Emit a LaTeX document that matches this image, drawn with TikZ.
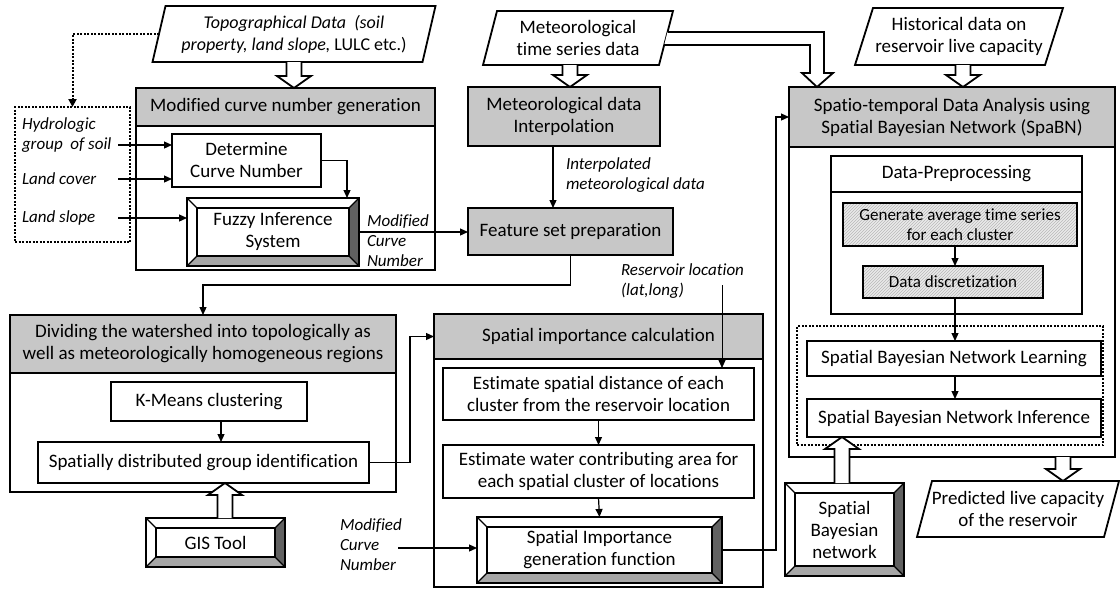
\documentclass[tikz,border=0pt]{standalone}
\usepackage{fontspec}
\setmainfont[Ligatures=NoCommon]{Carlito}
\usetikzlibrary{calc,arrows.meta,patterns}

\tikzset{
 every node/.style={outer sep=0pt, inner sep=2pt, align=center, font=\fontsize{19}{22}\selectfont},
 cont/.style={draw, line width=2.6pt, fill=white},
 headbox/.style={draw, line width=2.6pt, fill=black!22},
 box/.style={draw, line width=1.8pt, fill=white},
 hatchbox/.style={draw, line width=1.8pt, preaction={fill=black!8}, pattern=north east lines, pattern color=black!28},
 plain/.style={draw=none},
 lbl/.style={font=\fontsize{17}{20}\selectfont\itshape, align=left, anchor=west, inner sep=0pt},
 arr/.style={line width=1.2pt, -{Triangle[length=8pt,width=7pt]}},
 hollow/.style={line width=1.8pt, fill=white, line join=miter},
 dotline/.style={line width=2pt, dash pattern=on 2pt off 1.5pt},
 dotframe/.style={draw, dotline},
}

\newcommand\hollowv[2]{%
 \draw[hollow] let \p1=#1, \p2=#2, \p3=(\x1,{\y2-sign(\y2-(\y1))*12pt}) in
 (\x1-7.5pt,\y1) -- (\x1-7.5pt,\y3) -- (\x1-17pt,\y3) -- (\x1,\y2) -- (\x1+17pt,\y3) -- (\x1+7.5pt,\y3) -- (\x1+7.5pt,\y1);}

\newcommand\bevel[1]{%
 \fill[black!35] (#1.south west) -- (#1.south east) -- ($(#1.south east)+(-10pt,10pt)$) -- ($(#1.south west)+(10pt,10pt)$) -- cycle;
 \fill[black!62] (#1.south east) -- (#1.north east) -- ($(#1.north east)+(-10pt,-10pt)$) -- ($(#1.south east)+(-10pt,10pt)$) -- cycle;
 \draw[line width=1.8pt] (#1.south west) rectangle (#1.north east);
 \draw[line width=1.8pt] ($(#1.south west)+(10pt,10pt)$) rectangle ($(#1.north east)+(-10pt,-10pt)$);
 \draw[line width=1.2pt] (#1.south west) -- ++(10pt,10pt) (#1.south east) -- ++(-10pt,10pt) (#1.north east) -- ++(-10pt,-10pt) (#1.north west) -- ++(10pt,-10pt);}

\newcommand\para[2]{%
 \draw[line width=1.8pt] ($(#1.south west)+(-#2pt,0)$) -- ($(#1.north west)+(#2pt,0)$) -- ($(#1.north east)+(#2pt,0)$) -- ($(#1.south east)+(-#2pt,0)$) -- cycle;}

\begin{document}
\begin{tikzpicture}[x=1pt,y=-1pt]
\useasboundingbox[fill=white] (0,0) rectangle (1120,590);

% ---------- top-left block ----------
\node[plain, minimum width=270pt, minimum height=56pt, font=\fontsize{18}{22}\selectfont] (topo) at (294,34)
 {\textit{Topographical Data~~(soil}\\\textit{property, land slope,} LULC etc.)};
\para{topo}{6.5}

\node[cont, minimum width=299pt, minimum height=182pt] (mcng) at (285.5,179) {};
\node[headbox, minimum width=299pt, minimum height=38pt] (mcngh) at (285.5,107) {Modified curve number generation};
\node[box, minimum width=149pt, minimum height=53pt] (det) at (246.5,160.5) {Determine\\Curve Number};
\node[plain, minimum width=172pt, minimum height=68pt] (fuzzy) at (273,232) {};
\bevel{fuzzy}
\node[plain] at (fuzzy) {Fuzzy Inference\\System};

\node[dotframe, minimum width=115pt, minimum height=135pt] (dot) at (72.5,174.5) {};
\node[lbl] (hyd) at (22,135) {Hydrologic\\group~~of soil};
\node[lbl] (landc) at (22,179) {Land cover};
\node[lbl] (lands) at (22,218) {Land slope};
\coordinate (s1) at (118,145);
\coordinate (s2) at (118,179);
\coordinate (s3) at (118,218);
\node[lbl] (mcn1) at (367,241) {Modified\\Curve\\Number};

% ---------- meteorological ----------
\node[plain, minimum width=176pt, minimum height=54pt] (met) at (578,38) {Meteorological\\time series data};
\para{met}{7}
\node[headbox, minimum width=192pt, minimum height=59pt] (metint) at (564,116.5) {Meteorological data\\Interpolation};
\node[lbl] (interp) at (566,175) {Interpolated\\meteorological data};
\node[headbox, minimum width=205pt, minimum height=47pt] (feat) at (570.5,231.5) {Feature set preparation};

% ---------- SpaBN ----------
\node[plain, minimum width=190pt, minimum height=57pt] (hist) at (959,36.5) {Historical data on\\reservoir live capacity};
\para{hist}{9}
\node[cont, minimum width=326pt, minimum height=370pt] (spa) at (952,272) {};
\node[headbox, minimum width=326pt, minimum height=60pt] (spah) at (952,117) {Spatio-temporal Data Analysis using\\Spatial Bayesian Network (SpaBN)};
\node[box, minimum width=251pt, minimum height=158pt] (dp) at (956.5,235) {};
\node[box, minimum width=251pt, minimum height=36pt] (dph) at (956.5,174) {Data-Preprocessing};
\node[hatchbox, minimum width=234pt, minimum height=43pt, font=\fontsize{17}{20}\selectfont] (gen) at (960,224.5) {Generate average time series\\for each cluster};
\node[hatchbox, minimum width=180pt, minimum height=32pt, font=\fontsize{17}{20}\selectfont] (disc) at (953,282) {Data discretization};
\node[dotframe, minimum width=306pt, minimum height=119pt] (dot2) at (950,385.5) {};
\node[box, minimum width=294pt, minimum height=35pt] (learn) at (954,358.5) {Spatial Bayesian Network Learning};
\node[box, minimum width=294pt, minimum height=38pt] (inf) at (954,418) {Spatial Bayesian Network Inference};
\node[plain, minimum width=187pt, minimum height=56pt] (pred) at (1018,509) {Predicted live capacity\\of the reservoir};
\para{pred}{7.5}
\node[plain, minimum width=119pt, minimum height=93pt] (sbn) at (844.5,529.5) {};
\bevel{sbn}
\node[plain] at (sbn) {Spatial\\Bayesian\\network};

% ---------- Dividing ----------
\node[cont, minimum width=386pt, minimum height=177pt] (div) at (203,403.5) {};
\node[headbox, minimum width=386pt, minimum height=58pt] (divh) at (203,344) {Dividing the watershed into topologically as\\well as meteorologically homogeneous regions};
\node[box, minimum width=196pt, minimum height=39pt] (km) at (209,401.5) {K-Means clustering};
\node[box, minimum width=331pt, minimum height=41pt] (spd) at (203.5,462.5) {Spatially distributed group identification};
\node[plain, minimum width=139pt, minimum height=49pt] (gis) at (215.5,542.5) {};
\bevel{gis}
\node[plain] at (gis) {GIS Tool};

% ---------- Spatial importance ----------
\node[cont, minimum width=329pt, minimum height=273pt] (sic) at (598.5,450.5) {};
\node[headbox, minimum width=329pt, minimum height=45pt] (sich) at (598.5,336.5) {Spatial importance calculation};
\node[box, minimum width=311pt, minimum height=52pt] (dist) at (598.5,394) {Estimate spatial distance of each\\cluster from the reservoir location};
\node[box, minimum width=311pt, minimum height=53pt] (water) at (598.5,471.5) {Estimate water contributing area for\\each spatial cluster of locations};
\node[plain, minimum width=245pt, minimum height=66pt] (genfn) at (599.5,550) {};
\bevel{genfn}
\node[plain] at (genfn) {Spatial Importance\\generation function};
\node[lbl] (mcn2) at (340,545) {Modified\\Curve\\Number};
\coordinate (c2) at (398,548);
\node[lbl] (res) at (621,281) {Reservoir location\\(lat,long)};
\coordinate (rl) at (722,285);

% ---------- connectors ----------
\draw[arr] (s1) -- (s1 -| det.west);
\draw[arr] (s2) -- (s2 -| det.west);
\draw[arr] (s3) -- (s3 -| fuzzy.west);
\draw[arr] (det.east) -| ([xshift=-12pt]fuzzy.north east);
\draw[arr] (fuzzy.east) -- (fuzzy.east -| feat.west);
\draw[dotline, -{Triangle[length=8pt,width=8pt]}] (topo.west) -| (dot.north);
\draw[arr] ([xshift=-11pt]metint.south) -- ([xshift=-11pt]metint.south |- feat.north);
\draw[arr] (feat.south) -- ++(0,30) -| (div.north);
\draw[arr] ([xshift=12pt]km.south) -- ([xshift=12pt]km.south |- spd.north);
\draw[arr] (spd.east) -- ++(41,0) |- (sich.west);
\draw[arr] (dist.south) -- (water.north);
\draw[arr] (water.south) -- (genfn.north);
\draw[arr] (c2) -- (c2 -| genfn.west);
\draw[line width=0.8pt, -{Triangle[length=8pt,width=7pt]}] (rl) -- (rl |- dist.north);
\draw[arr] (genfn.east) -- ++(54,0) |- (spah.west);
\draw[arr] ([xshift=-5pt]gen.south) -- ([xshift=-5pt]gen.south |- disc.north);
\draw[arr] ([xshift=2pt]disc.south) -- ([xshift=2pt]disc.south |- learn.north);
\draw[arr] ([xshift=1pt]learn.south) -- ([xshift=1pt]learn.south |- inf.north);

% hollow arrows
\hollowv{(topo.south)}{(mcngh.north)}
\hollowv{([xshift=-8pt]met.south)}{(metint.north)}
\hollowv{([xshift=4pt]hist.south)}{(spah.north)}
\hollowv{([xshift=9.5pt]gis.north)}{(spd.south)}
\hollowv{([xshift=-2.5pt]sbn.north)}{(inf.south)}
\hollowv{([xshift=111pt]spa.south)}{(pred.north)}
\draw[hollow] let \p1=(met.east), \p2=(spah.north west) in
 (\x1+1.5pt,\y1+6pt) -- (\x2+35pt,\y1+6pt) -- (\x2+35pt,\y2+14pt) -- (\x2+44pt,\y2+14pt) -- (\x2+28pt,\y2) -- (\x2+13pt,\y2+14pt) -- (\x2+21pt,\y2+14pt) -- (\x2+21pt,\y1-7pt) -- (\x1-1.8pt,\y1-7pt);
\end{tikzpicture}
\end{document}
